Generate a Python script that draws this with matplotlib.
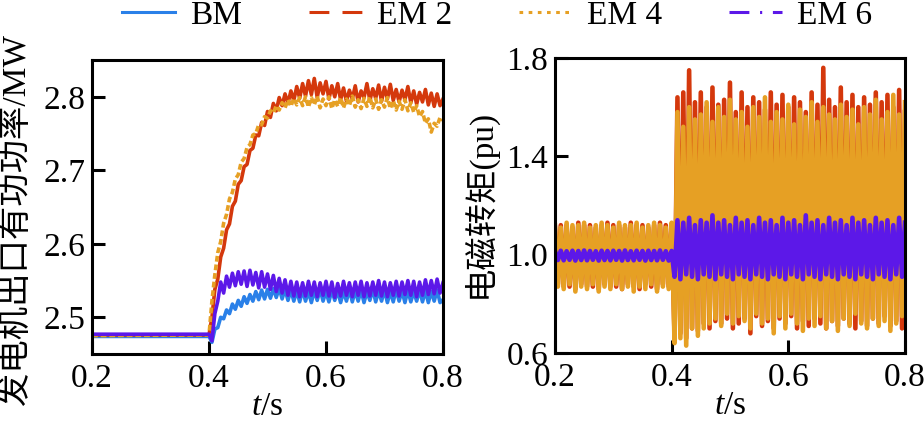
import numpy as np
import matplotlib.pyplot as plt
from matplotlib.lines import Line2D

plt.rcParams['font.family'] = ['Liberation Serif', 'Noto Sans CJK SC']
plt.rcParams['font.size'] = 24
plt.rcParams['mathtext.fontset'] = 'custom'
plt.rcParams['mathtext.it'] = 'Liberation Serif:italic'
plt.rcParams['mathtext.rm'] = 'Liberation Serif'

labels = ['BM', 'EM 2', 'EM 4', 'EM 6']
colors = ['#2a80e8', '#d4380c', '#e6a024', '#5c18e8']

# ---- left panel: generator output active power (MW) ----
# first point is t = 0.2, then t = 0.400 ... 0.800 every 5 ms
t_power = np.concatenate([[0.2], np.linspace(0.4, 0.8, 81)])

bm_power = [2.474,
    2.474, 2.466, 2.484, 2.486, 2.500, 2.498, 2.510, 2.505, 2.518, 2.511,
    2.523, 2.515, 2.528, 2.519, 2.531, 2.522, 2.535, 2.524, 2.537, 2.525,
    2.538, 2.526, 2.539, 2.527, 2.540, 2.525, 2.538, 2.523, 2.537, 2.522,
    2.536, 2.521, 2.537, 2.522, 2.535, 2.520, 2.536, 2.523, 2.538, 2.522,
    2.535, 2.521, 2.537, 2.523, 2.536, 2.520, 2.535, 2.522, 2.538, 2.521,
    2.536, 2.522, 2.537, 2.520, 2.535, 2.523, 2.538, 2.521, 2.536, 2.522,
    2.537, 2.520, 2.535, 2.521, 2.538, 2.522, 2.536, 2.520, 2.537, 2.521,
    2.535, 2.522, 2.537, 2.521, 2.536, 2.520, 2.535, 2.522, 2.537, 2.520,
    2.524]

em2_power = [2.476,
    2.476, 2.500, 2.538, 2.552, 2.582, 2.594, 2.619, 2.627, 2.651, 2.658,
    2.681, 2.686, 2.705, 2.708, 2.727, 2.730, 2.748, 2.747, 2.765, 2.761,
    2.780, 2.772, 2.791, 2.781, 2.799, 2.788, 2.804, 2.791, 2.808, 2.795,
    2.814, 2.798, 2.818, 2.801, 2.822, 2.803, 2.825, 2.799, 2.819, 2.804,
    2.821, 2.797, 2.815, 2.800, 2.818, 2.796, 2.812, 2.794, 2.809, 2.797,
    2.815, 2.793, 2.808, 2.799, 2.818, 2.795, 2.811, 2.798, 2.816, 2.794,
    2.813, 2.797, 2.817, 2.795, 2.810, 2.793, 2.809, 2.796, 2.814, 2.792,
    2.808, 2.790, 2.806, 2.793, 2.810, 2.789, 2.805, 2.787, 2.804, 2.788,
    2.797]

em4_power = [2.475,
    2.476, 2.522, 2.558, 2.588, 2.603, 2.628, 2.640, 2.661, 2.670, 2.688,
    2.694, 2.711, 2.716, 2.731, 2.735, 2.748, 2.750, 2.762, 2.762, 2.773,
    2.771, 2.781, 2.778, 2.788, 2.782, 2.792, 2.785, 2.796, 2.787, 2.798,
    2.789, 2.799, 2.788, 2.800, 2.786, 2.799, 2.789, 2.801, 2.785, 2.797,
    2.788, 2.800, 2.784, 2.796, 2.787, 2.799, 2.785, 2.797, 2.788, 2.801,
    2.786, 2.796, 2.784, 2.798, 2.787, 2.800, 2.785, 2.797, 2.783, 2.796,
    2.786, 2.799, 2.784, 2.795, 2.782, 2.794, 2.783, 2.796, 2.781, 2.792,
    2.779, 2.788, 2.773, 2.780, 2.764, 2.770, 2.752, 2.764, 2.760, 2.772,
    2.768]

em6_power = [2.477,
    2.477, 2.468, 2.505, 2.522, 2.548, 2.533, 2.556, 2.541, 2.560, 2.543,
    2.562, 2.545, 2.563, 2.542, 2.564, 2.544, 2.561, 2.540, 2.562, 2.541,
    2.559, 2.538, 2.557, 2.535, 2.553, 2.533, 2.551, 2.530, 2.549, 2.529,
    2.548, 2.528, 2.547, 2.529, 2.549, 2.530, 2.548, 2.528, 2.547, 2.530,
    2.549, 2.529, 2.548, 2.527, 2.546, 2.529, 2.549, 2.530, 2.547, 2.528,
    2.548, 2.530, 2.549, 2.528, 2.547, 2.529, 2.548, 2.530, 2.550, 2.529,
    2.548, 2.528, 2.547, 2.530, 2.549, 2.529, 2.548, 2.531, 2.550, 2.530,
    2.549, 2.528, 2.548, 2.530, 2.551, 2.531, 2.550, 2.532, 2.552, 2.533,
    2.547]

# ---- right panel: electromagnetic torque (pu), t = 0.2 ... 0.8 every 5 ms ----
t_torque = np.linspace(0.2, 0.8, 121)

bm_torque = [
    1.020, 0.975, 1.025, 0.980, 1.020, 0.975, 1.020, 0.972, 1.025, 0.978,
    1.020, 0.975, 1.022, 0.980, 1.020, 0.974, 1.025, 0.977, 1.020, 0.975,
    1.023, 0.978, 1.020, 0.972, 1.025, 0.976, 1.020, 0.975, 1.022, 0.979,
    1.020, 0.973, 1.025, 0.976, 1.021, 0.975, 1.024, 0.978, 1.020, 0.974,
    1.020,
    0.90, 1.13, 0.92, 1.15, 0.91, 1.12, 0.90, 1.14, 0.92, 1.13,
    0.91, 1.16, 0.90, 1.12, 0.92, 1.14, 0.91, 1.13, 0.90, 1.15,
    0.92, 1.12, 0.91, 1.14, 0.90, 1.13, 0.92, 1.15, 0.91, 1.12,
    0.90, 1.14, 0.92, 1.13, 0.91, 1.15, 0.90, 1.12, 0.92, 1.14,
    0.91, 1.13, 0.90, 1.16, 0.92, 1.12, 0.91, 1.14, 0.90, 1.13,
    0.92, 1.15, 0.91, 1.12, 0.90, 1.14, 0.92, 1.13, 0.91, 1.15,
    0.90, 1.12, 0.92, 1.14, 0.91, 1.13, 0.90, 1.15, 0.92, 1.12,
    0.91, 1.14, 0.90, 1.13, 0.92, 1.15, 0.91, 1.12, 0.90, 1.14]

em2_torque = [
    1.11, 0.88, 1.12, 0.87, 1.12, 0.87, 1.11, 0.86, 1.13, 0.88,
    1.12, 0.87, 1.12, 0.87, 1.11, 0.86, 1.12, 0.88, 1.13, 0.87,
    1.12, 0.87, 1.12, 0.86, 1.11, 0.88, 1.13, 0.87, 1.12, 0.86,
    1.12, 0.88, 1.11, 0.87, 1.12, 0.86, 1.13, 0.88, 1.12, 0.87,
    1.12,
    0.67, 1.64, 0.68, 1.66, 0.66, 1.75, 0.70, 1.62, 0.69, 1.66,
    0.72, 1.60, 0.70, 1.68, 0.73, 1.61, 0.72, 1.63, 0.74, 1.70,
    0.70, 1.58, 0.72, 1.66, 0.74, 1.60, 0.68, 1.64, 0.75, 1.62,
    0.71, 1.59, 0.73, 1.66, 0.70, 1.61, 0.74, 1.65, 0.72, 1.60,
    0.75, 1.64, 0.70, 1.62, 0.73, 1.58, 0.71, 1.66, 0.74, 1.61,
    0.72, 1.76, 0.70, 1.63, 0.73, 1.60, 0.71, 1.68, 0.74, 1.62,
    0.72, 1.65, 0.70, 1.60, 0.73, 1.64, 0.71, 1.61, 0.74, 1.66,
    0.72, 1.62, 0.75, 1.65, 0.71, 1.60, 0.73, 1.67, 0.70, 1.58]

em4_torque = [
    1.12, 0.87, 1.11, 0.86, 1.13, 0.88, 1.12, 0.85, 1.12, 0.87,
    1.13, 0.86, 1.11, 0.88, 1.12, 0.85, 1.13, 0.87, 1.12, 0.86,
    1.11, 0.88, 1.13, 0.86, 1.12, 0.87, 1.12, 0.85, 1.13, 0.87,
    1.11, 0.86, 1.12, 0.88, 1.13, 0.85, 1.12, 0.87, 1.11, 0.86,
    1.13,
    0.64, 1.58, 0.66, 1.52, 0.63, 1.60, 0.70, 1.55, 0.67, 1.57,
    0.70, 1.62, 0.72, 1.54, 0.74, 1.60, 0.71, 1.56, 0.76, 1.63,
    0.72, 1.55, 0.75, 1.58, 0.73, 1.52, 0.70, 1.60, 0.76, 1.56,
    0.72, 1.64, 0.74, 1.54, 0.68, 1.58, 0.75, 1.55, 0.70, 1.61,
    0.76, 1.53, 0.72, 1.59, 0.69, 1.56, 0.74, 1.62, 0.71, 1.54,
    0.75, 1.60, 0.70, 1.57, 0.73, 1.55, 0.69, 1.61, 0.74, 1.56,
    0.71, 1.59, 0.76, 1.53, 0.72, 1.60, 0.70, 1.57, 0.74, 1.63,
    0.71, 1.55, 0.73, 1.58, 0.69, 1.65, 0.72, 1.57, 0.75, 1.62]

em6_torque = [
    1.015, 0.978, 1.016, 0.977, 1.014, 0.979, 1.016, 0.976, 1.015, 0.978,
    1.017, 0.977, 1.015, 0.979, 1.014, 0.976, 1.016, 0.978, 1.015, 0.977,
    1.016, 0.979, 1.015, 0.976, 1.017, 0.978, 1.014, 0.977, 1.016, 0.979,
    1.015, 0.976, 1.016, 0.978, 1.015, 0.977, 1.017, 0.979, 1.014, 0.976,
    1.015,
    0.91, 1.14, 0.90, 1.13, 0.92, 1.15, 0.91, 1.12, 0.90, 1.14,
    0.92, 1.13, 0.91, 1.16, 0.90, 1.13, 0.92, 1.14, 0.91, 1.12,
    0.90, 1.15, 0.92, 1.13, 0.91, 1.14, 0.90, 1.12, 0.92, 1.15,
    0.91, 1.13, 0.90, 1.14, 0.92, 1.12, 0.91, 1.15, 0.90, 1.13,
    0.92, 1.14, 0.91, 1.12, 0.90, 1.16, 0.92, 1.13, 0.91, 1.14,
    0.90, 1.12, 0.92, 1.15, 0.91, 1.13, 0.90, 1.14, 0.92, 1.12,
    0.91, 1.15, 0.90, 1.13, 0.92, 1.14, 0.91, 1.12, 0.90, 1.15,
    0.92, 1.13, 0.91, 1.14, 0.90, 1.12, 0.92, 1.15, 0.91, 1.13]

power = [bm_power, em2_power, em4_power, em6_power]
torque = [bm_torque, em2_torque, em4_torque, em6_torque]
# dash patterns used in the legend
dash_list = ['-', (0, (6.5, 4.3)), (0, (1.2, 1.8)), (0, (6.5, 3.5, 0.7, 3.5))]

fig = plt.figure(figsize=(9.24, 4.23), dpi=100)
ax1 = fig.add_axes([0.0996, 0.163, 0.3798, 0.695])
ax2 = fig.add_axes([0.6006, 0.1655, 0.3788, 0.6974])

# the signals are so dense in the original that the dashes merge into bands
for i in range(4):
    ls = (0, (1.6, 0.8)) if i == 2 else '-'
    ax1.plot(t_power, power[i], color=colors[i], lw=2.6, ls=ls, zorder=2 + i)
    ax2.plot(t_torque, torque[i], color=colors[i], lw=3.3, zorder=2 + i)

handles = [Line2D([], [], color=colors[i], lw=2.2, ls=dash_list[i]) for i in range(4)]

ax1.set_xlim(0.2, 0.8)
ax1.set_ylim(2.45, 2.85)
ax1.set_xticks([0.2, 0.4, 0.6, 0.8])
ax1.set_yticks([2.5, 2.6, 2.7, 2.8])
ax1.set_ylabel('发电机出口有功功率/MW')

ax2.set_xlim(0.2, 0.8)
ax2.set_ylim(0.6, 1.8)
ax2.set_xticks([0.2, 0.4, 0.6, 0.8])
ax2.set_yticks([0.6, 1.0, 1.4, 1.8])
ax2.set_yticklabels(['0.6', '1.0', '1.4', '1.8'])
ax2.set_ylabel('电磁转矩(pu)')

for ax in (ax1, ax2):
    ax.set_xlabel('$t$/s', labelpad=-2)
    ax.tick_params(direction='in', length=9.5, width=2.2, pad=5)
    ax.tick_params(axis='x', pad=7)
    for s in ax.spines.values():
        s.set_linewidth(2.2)
        s.set_zorder(10)

ax1.yaxis.set_label_coords(-0.17, 0.456)
ax2.yaxis.set_label_coords(-0.165, 0.507)

fig.legend(handles, labels, loc='center', bbox_to_anchor=(0.538, 0.963), ncol=4,
           frameon=False, handlelength=1.6, handletextpad=0.45, columnspacing=2.0)

fig.savefig('out.png', dpi=100)
